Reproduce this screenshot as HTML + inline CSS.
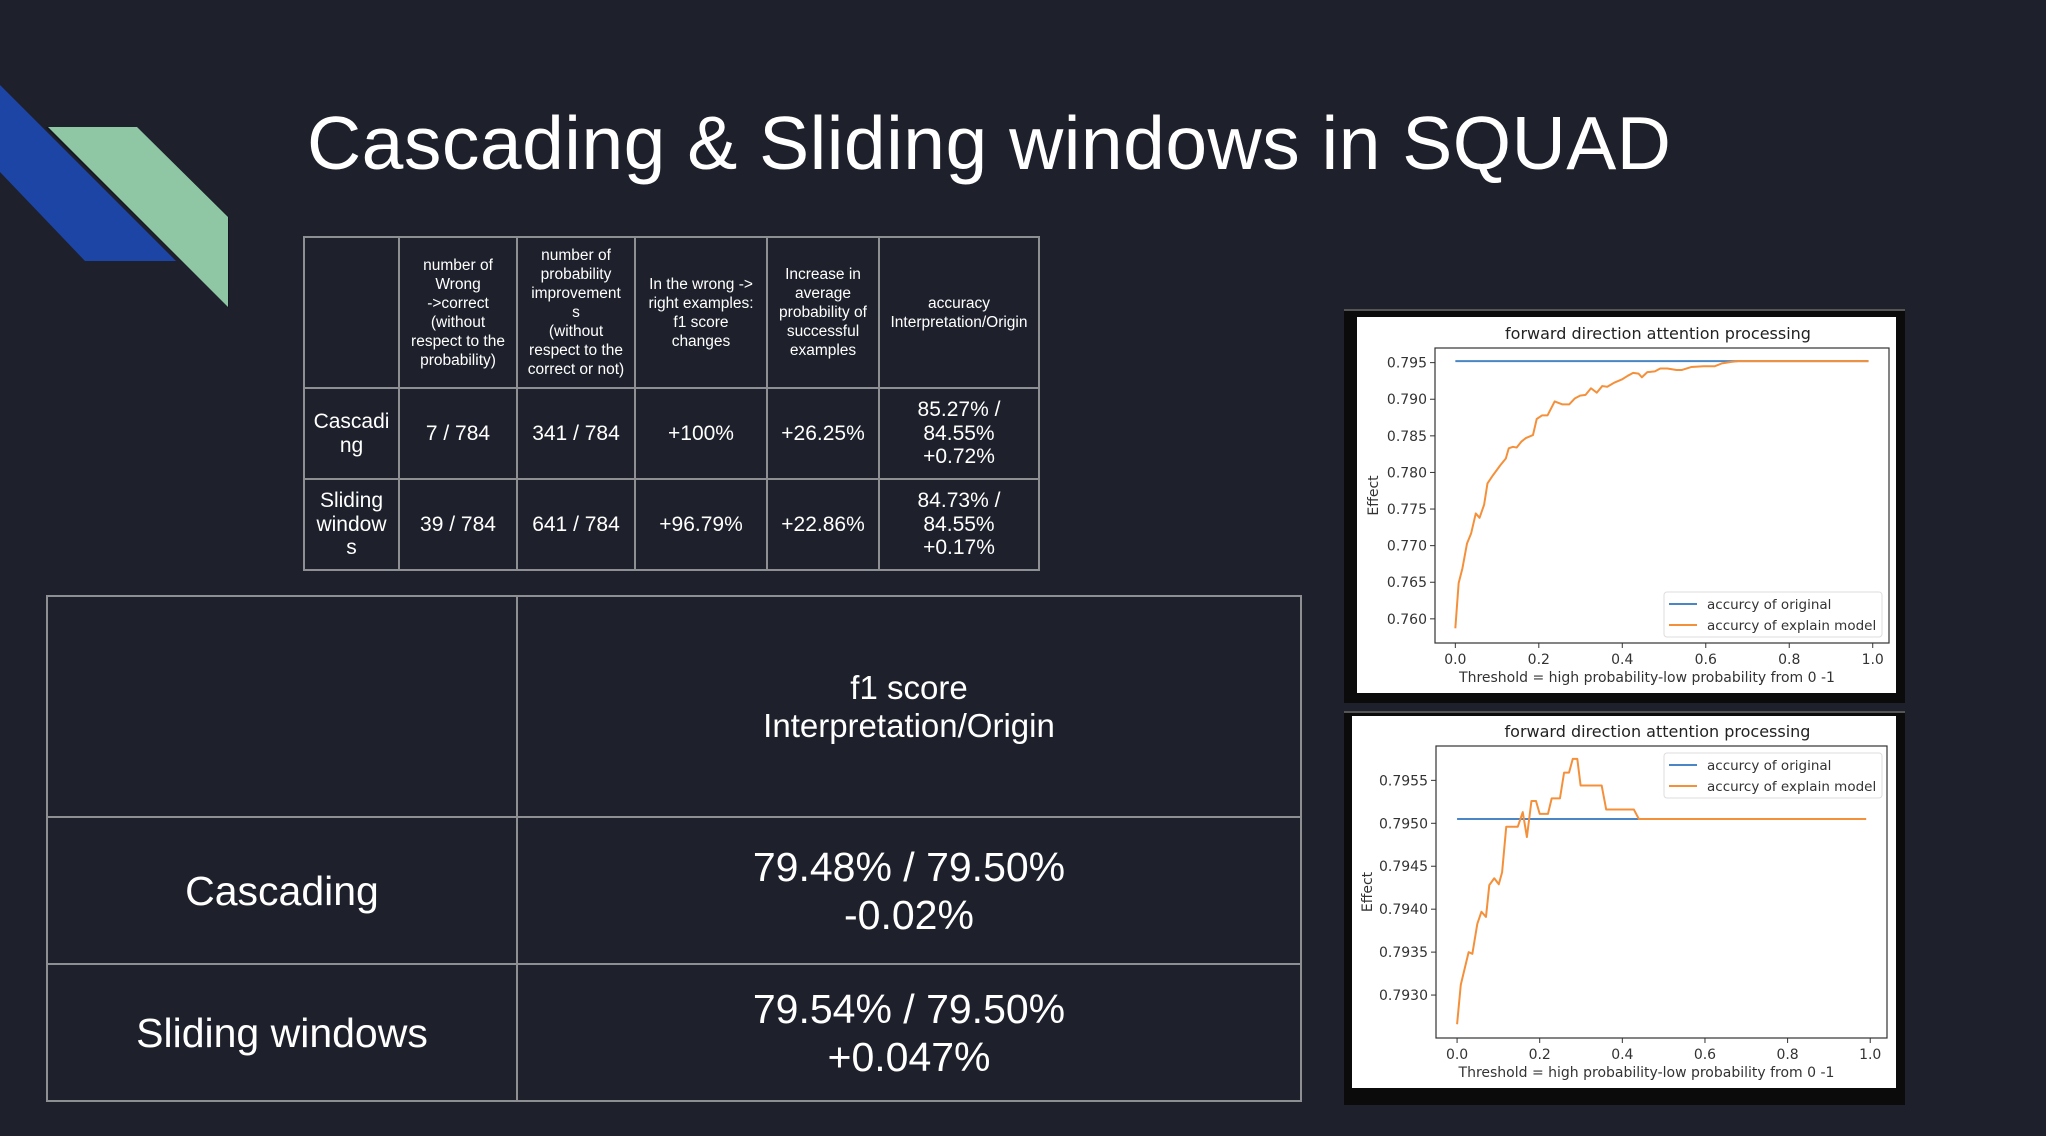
<!DOCTYPE html>
<html><head><meta charset="utf-8">
<style>
html,body{margin:0;padding:0;}
body{width:2046px;height:1136px;background:#1e212b;position:relative;overflow:hidden;font-family:"Liberation Sans",sans-serif;color:#fff;}
.abs{position:absolute;}
table{border-collapse:collapse;position:absolute;table-layout:fixed;}
td{border:2px solid #8e8f93;text-align:center;vertical-align:middle;padding:0;color:#fff;}
#t1 td{font-family:"Liberation Sans Narrow","Liberation Sans",sans-serif;}
#t1 .h{font-size:15.5px;line-height:19px;}
#t1 .b{font-size:21px;line-height:23.5px;}
#t2 td{font-family:"Liberation Sans Narrow","Liberation Sans",sans-serif;}
#t2 .h{font-size:33px;line-height:38px;}
#t2 .b{font-size:41px;line-height:48px;}
</style></head>
<body>
<svg class="abs" style="left:0;top:0" width="260" height="320">
<polygon points="0,85 176,261 85,261 0,172" fill="#1d45a6"/>
<polygon points="45,127 137,127 229,217 229,308" fill="#111520" opacity="0.7"/>
<polygon points="48,127 137,127 228,217 228,307" fill="#8fc7a5"/>
</svg>
<div class="abs" style="left:307px;top:100px;font-size:75px;white-space:nowrap;letter-spacing:0.5px;">Cascading &amp; Sliding windows in SQUAD</div>

<table id="t1" style="left:303px;top:236px;width:735px;">
<colgroup><col style="width:95px"><col style="width:118px"><col style="width:118px"><col style="width:132px"><col style="width:112px"><col style="width:160px"></colgroup>
<tr style="height:151px">
<td></td>
<td class="h">number of<br>Wrong<br>-&gt;correct<br>(without<br>respect to the<br>probability)</td>
<td class="h">number of<br>probability<br>improvement<br>s<br>(without<br>respect to the<br>correct or not)</td>
<td class="h">In the wrong -&gt;<br>right examples:<br>f1 score<br>changes</td>
<td class="h">Increase in<br>average<br>probability of<br>successful<br>examples</td>
<td class="h">accuracy<br>Interpretation/Origin</td>
</tr>
<tr style="height:91px">
<td class="b">Cascadi<br>ng</td>
<td class="b">7 / 784</td>
<td class="b">341 / 784</td>
<td class="b">+100%</td>
<td class="b">+26.25%</td>
<td class="b">85.27% /<br>84.55%<br>+0.72%</td>
</tr>
<tr style="height:91px">
<td class="b">Sliding<br>window<br>s</td>
<td class="b">39 / 784</td>
<td class="b">641 / 784</td>
<td class="b">+96.79%</td>
<td class="b">+22.86%</td>
<td class="b">84.73% /<br>84.55%<br>+0.17%</td>
</tr>
</table>

<table id="t2" style="left:46px;top:595px;width:1254px;">
<colgroup><col style="width:470px"><col style="width:784px"></colgroup>
<tr style="height:221px"><td></td><td class="h">f1 score<br>Interpretation/Origin</td></tr>
<tr style="height:147px"><td class="b">Cascading</td><td class="b">79.48% / 79.50%<br>-0.02%</td></tr>
<tr style="height:137px"><td class="b">Sliding windows</td><td class="b">79.54% / 79.50%<br>+0.047%</td></tr>
</table>

<div class="abs" style="left:1344px;top:309px;width:561px;height:392px;background:#0b0b0c;border-top:2px solid #555;"></div>
<div class="abs" style="left:1344px;top:711px;width:561px;height:392px;background:#0b0b0c;border-top:2px solid #555;"></div>
<svg id="charts" class="abs" style="left:0;top:0" width="2046" height="1136"></svg>

<script>
const c1X=[0,0.008,0.017,0.028,0.038,0.049,0.058,0.069,0.077,0.09,0.108,0.121,0.128,0.138,0.147,0.158,0.169,0.186,0.195,0.208,0.221,0.238,0.256,0.273,0.286,0.299,0.312,0.325,0.339,0.352,0.364,0.382,0.399,0.413,0.426,0.439,0.447,0.46,0.478,0.491,0.508,0.53,0.543,0.565,0.595,0.621,0.639,0.661,0.678,0.99];
const c1Explain=[0.7587,0.7649,0.7669,0.7703,0.7717,0.7744,0.7738,0.7756,0.7785,0.7796,0.7810,0.7819,0.7833,0.7835,0.7834,0.7842,0.7847,0.7851,0.7873,0.7878,0.7878,0.7897,0.7893,0.7893,0.7901,0.7905,0.7906,0.7915,0.7909,0.7918,0.7917,0.7923,0.7927,0.7932,0.7936,0.7935,0.7930,0.7937,0.7938,0.7942,0.7942,0.7940,0.7940,0.7944,0.7945,0.7945,0.7949,0.7951,0.7952,0.7952];
const c1Original=[0.7952,0.7952];
const c1OrigX=[0,0.99];
const c1YTicks=[0.760,0.765,0.770,0.775,0.780,0.785,0.790,0.795];
const c2X=[0,0.009,0.028,0.037,0.049,0.059,0.07,0.078,0.09,0.101,0.109,0.119,0.147,0.159,0.169,0.18,0.191,0.2,0.22,0.229,0.249,0.259,0.271,0.28,0.291,0.299,0.35,0.361,0.428,0.44,0.99];
const c2Explain=[0.79266,0.79312,0.79350,0.79348,0.79383,0.79397,0.79391,0.79428,0.79436,0.79429,0.79443,0.79496,0.79496,0.79513,0.79484,0.79526,0.79526,0.79511,0.79511,0.79529,0.79529,0.79559,0.79559,0.79575,0.79575,0.79544,0.79544,0.79516,0.79516,0.79505,0.79505];
const c2Original=[0.79505,0.79505];
const c2OrigX=[0,0.99];
const c2YTicks=[0.7930,0.7935,0.7940,0.7945,0.7950,0.7955];
const xTicks=[0,0.2,0.4,0.6,0.8,1.0];

const NS='http://www.w3.org/2000/svg';
const svg=document.getElementById('charts');
function mk(tag,attrs,parent,text){const e=document.createElementNS(NS,tag);for(const k in attrs)e.setAttribute(k,attrs[k]);if(text!==undefined)e.textContent=text;(parent||svg).appendChild(e);return e;}

function chart(o){
  const g=mk('g',{});
  
  
  const bg=mk('rect',{x:o.wx,y:o.wy,width:o.ww,height:o.wh,fill:'#fff'},g);
  
  
  const sx=v=>o.ax+(v-o.xmin)/(o.xmax-o.xmin)*o.aw;
  const sy=v=>o.ay+o.ah-(v-o.ymin)/(o.ymax-o.ymin)*o.ah;
  const font='"DejaVu Sans","Liberation Sans",sans-serif';
  const ti=mk('text',{x:o.ax+o.aw/2-4,y:o.ay-9,'text-anchor':'middle','font-size':16,'font-family':font,fill:'#222'},g,'forward direction attention processing');
  
  
  o.yTicks.forEach(t=>{
    const y=sy(t);
    mk('line',{x1:o.ax-5,x2:o.ax,y1:y,y2:y,stroke:'#333','stroke-width':1},g);
    const tl=mk('text',{x:o.ax-8,y:y+5,'text-anchor':'end','font-size':14,'font-family':font,fill:'#333'},g,t.toFixed(o.dec));
    
    
  });
  xTicks.forEach(t=>{
    const x=sx(t);
    mk('line',{x1:x,x2:x,y1:o.ay+o.ah,y2:o.ay+o.ah+5,stroke:'#333','stroke-width':1},g);
    const tl=mk('text',{x:x,y:o.ay+o.ah+21,'text-anchor':'middle','font-size':14,'font-family':font,fill:'#333'},g,t.toFixed(1));
    
    
  });
  const xl=mk('text',{x:o.ax+o.aw/2-15,y:o.ay+o.ah+39,'text-anchor':'middle','font-size':14,'font-family':font,fill:'#333'},g,'Threshold = high probability-low probability from 0 -1');
  
  
  const yl=mk('text',{x:0,y:0,'text-anchor':'middle','font-size':14,'font-family':font,fill:'#333',transform:`translate(${o.ylx},${o.ay+o.ah/2}) rotate(-90)`},g,'Effect');
  
  
  const p1=mk('polyline',{points:o.origX.map((x,i)=>sx(x)+','+sy(o.orig[i])).join(' '),fill:'none',stroke:'#4a86c5','stroke-width':2},g);
  
  
  const p2=mk('polyline',{points:o.x.map((x,i)=>sx(x)+','+sy(o.expl[i])).join(' '),fill:'none',stroke:'#f5903a','stroke-width':2,'stroke-linejoin':'round'},g);
  
  
  const ax=mk('rect',{x:o.ax,y:o.ay,width:o.aw,height:o.ah,fill:'none',stroke:'#333','stroke-width':1.2},g);
  
  
  const lg=mk('g',{},g);
  
  
  mk('rect',{x:o.lx,y:o.ly,width:218,height:45,rx:3,fill:'#fff',stroke:'#ddd'},lg);
  mk('line',{x1:o.lx+5,x2:o.lx+33,y1:o.ly+12,y2:o.ly+12,stroke:'#4a86c5','stroke-width':2},lg);
  mk('line',{x1:o.lx+5,x2:o.lx+33,y1:o.ly+33,y2:o.ly+33,stroke:'#f5903a','stroke-width':2},lg);
  const e1=mk('text',{x:o.lx+43,y:o.ly+17,'font-size':13.5,'font-family':font,fill:'#333'},lg,'accurcy of original');
  
  
  const e2=mk('text',{x:o.lx+43,y:o.ly+38,'font-size':13.5,'font-family':font,fill:'#333'},lg,'accurcy of explain model');
  
  
}
chart({name:'chart-top',wx:1357,wy:317,ww:539,wh:376,ax:1435,ay:348,aw:454,ah:295,xmin:-0.0487,xmax:1.039,ymin:0.7567,ymax:0.7970,yTicks:c1YTicks,dec:3,x:c1X,expl:c1Explain,orig:c1Original,origX:c1OrigX,lx:1664,ly:592,ylx:1378});
chart({name:'chart-bottom',wx:1352,wy:716,ww:544,wh:372,ax:1436,ay:746,aw:451,ah:292,xmin:-0.051,xmax:1.0406,ymin:0.79250,ymax:0.79590,yTicks:c2YTicks,dec:4,x:c2X,expl:c2Explain,orig:c2Original,origX:c2OrigX,lx:1664,ly:753,ylx:1372});
</script>
</body></html>
